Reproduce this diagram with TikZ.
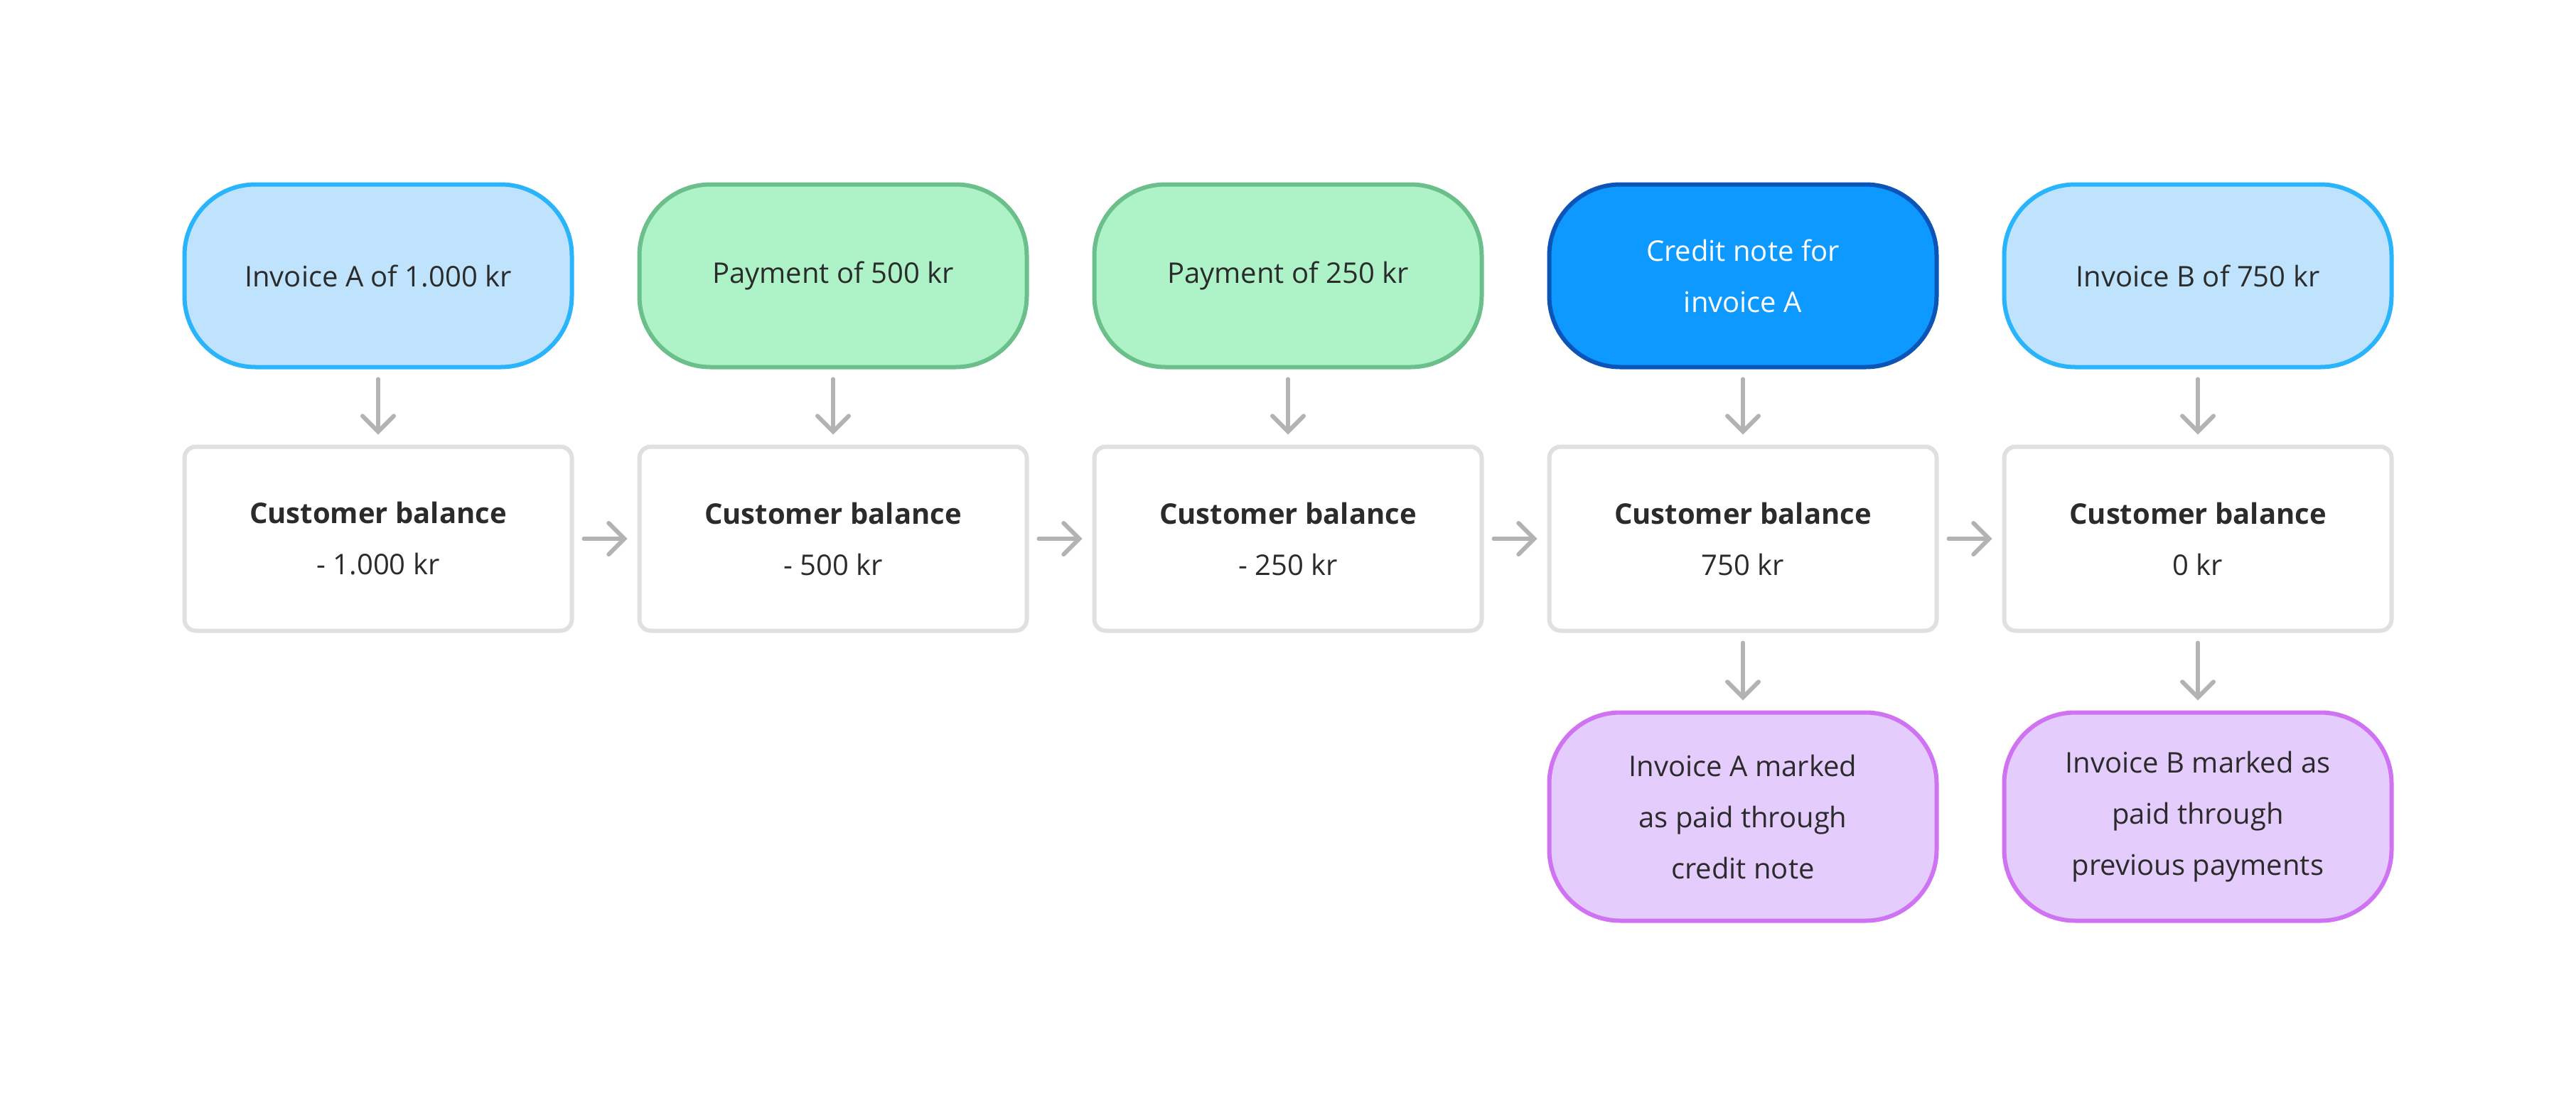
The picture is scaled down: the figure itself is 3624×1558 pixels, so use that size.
\documentclass[tikz,border=0pt]{standalone}
\usepackage{fontspec}
\setmainfont{Open Sans}
\usetikzlibrary{arrows.meta}
\definecolor{txt}{HTML}{2B2B2B}
\definecolor{bfill}{HTML}{BFE3FC}\definecolor{bdraw}{HTML}{2AB4FB}
\definecolor{gfill}{HTML}{AEF3C8}\definecolor{gdraw}{HTML}{6BBF8A}
\definecolor{cfill}{HTML}{0D99FF}\definecolor{cdraw}{HTML}{0B55B8}
\definecolor{pfill}{HTML}{E4CCFD}\definecolor{pdraw}{HTML}{CF73F2}
\definecolor{boxd}{HTML}{E0E0E0}\definecolor{arr}{HTML}{B3B3B3}
\tikzset{
 base/.style={minimum width=545pt,align=center,line width=6pt,text=txt,font=\fontsize{40}{72}\selectfont},
 pill/.style={base,rounded corners=100pt,minimum height=257pt},
 blue/.style={pill,fill=bfill,draw=bdraw},
 green/.style={pill,fill=gfill,draw=gdraw},
 credit/.style={pill,fill=cfill,draw=cdraw,text=white},
 purple/.style={base,rounded corners=100pt,minimum height=293pt,fill=pfill,draw=pdraw},
 bal/.style={base,rounded corners=16pt,minimum height=259pt,fill=white,draw=boxd},
 ar/.style={draw=arr,line width=6pt,line cap=round,-{Straight Barb[length=22pt,width=44pt,line width=6pt,line cap=round]},shorten <=14pt,shorten >=14pt}
}
\begin{document}
\begin{tikzpicture}[x=1pt,y=-1pt]
\useasboundingbox (0,0) rectangle (3624,1558);
\node[blue] (t1) at (532,388) {Invoice A of 1.000 kr};
\node[green] (t2) at (1172,388) {Payment of 500 kr};
\node[green] (t3) at (1812,388) {Payment of 250 kr};
\node[credit] (t4) at (2452,388) {Credit note for\\invoice A};
\node[blue] (t5) at (3092,388) {Invoice B of 750 kr};
\node[bal] (b1) at (532,758) {\textbf{Customer balance}\\- 1.000 kr};
\node[bal] (b2) at (1172,758) {\textbf{Customer balance}\\- 500 kr};
\node[bal] (b3) at (1812,758) {\textbf{Customer balance}\\- 250 kr};
\node[bal] (b4) at (2452,758) {\textbf{Customer balance}\\750 kr};
\node[bal] (b5) at (3092,758) {\textbf{Customer balance}\\0 kr};
\node[purple] (p4) at (2452,1149) {Invoice A marked\\as paid through\\credit note};
\node[purple] (p5) at (3092,1149) {Invoice B marked as\\paid through\\previous payments};
\foreach \i in {1,...,5} \draw[ar] (t\i) -- (b\i);
\draw[ar] (b1) -- (b2); \draw[ar] (b2) -- (b3); \draw[ar] (b3) -- (b4); \draw[ar] (b4) -- (b5);
\draw[ar] (b4) -- (p4); \draw[ar] (b5) -- (p5);
\end{tikzpicture}
\end{document}
